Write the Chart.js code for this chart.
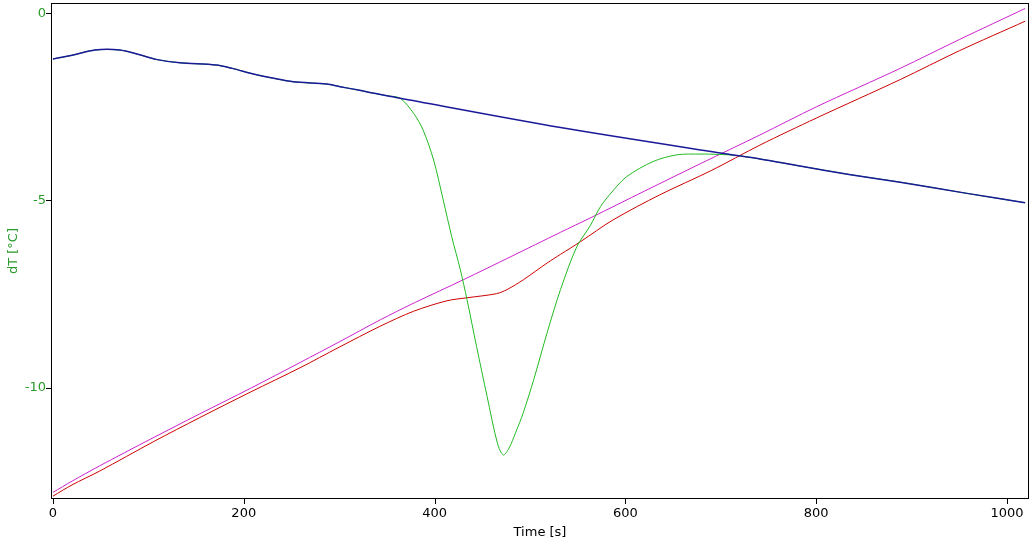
<!DOCTYPE html>
<html>
<head>
<meta charset="utf-8">
<title>dT vs Time</title>
<script src="https://cdn.jsdelivr.net/npm/chart.js@4"></script>
<style>
    html, body { margin: 0; padding: 0; background: #fff; }
    #wrap { width: 1032px; height: 544px; position: relative; }
</style>
</head>
<body>
<div id="wrap"><canvas id="dt-chart"></canvas></div>
<script>
// measured curve (green) and its baseline (blue)
var tMeasured = [0, 20, 44, 70, 90, 108, 133, 171, 188, 210, 230, 252, 287, 301, 320, 335, 350, 364,
    378, 388, 399, 409, 418, 427, 434, 444, 455, 466, 472, 478, 485, 493, 504, 518, 532, 549, 563,
    574, 584, 601, 629, 654, 678, 699, 717, 741, 783, 836, 888, 958, 1019];
var vMeasured = [-1.22, -1.12, -0.98, -0.98, -1.1, -1.23, -1.32, -1.38, -1.47, -1.62, -1.73, -1.83, -1.89, -1.96, -2.05, -2.13, -2.2, -2.27,
    -2.67, -3.12, -3.92, -4.98, -5.97, -6.85, -7.65, -8.9, -10.23, -11.5, -11.8, -11.62, -11.2, -10.67, -9.78, -8.53, -7.38, -6.24, -5.68,
    -5.16, -4.83, -4.37, -3.96, -3.78, -3.76, -3.77, -3.8, -3.89, -4.08, -4.31, -4.51, -4.81, -5.06];

var tBaseline = [0, 20, 44, 70, 90, 108, 133, 171, 188, 210, 230, 252, 287, 301, 320, 335, 350, 364,
    532, 717, 741, 783, 836, 888, 958, 1019];
var vBaseline = [-1.22, -1.12, -0.98, -0.98, -1.1, -1.23, -1.32, -1.38, -1.47, -1.62, -1.73, -1.83, -1.89, -1.96, -2.05, -2.13, -2.2, -2.27,
    -3.05, -3.8, -3.89, -4.08, -4.31, -4.51, -4.81, -5.06];

// reference (magenta) and sample (red) temperature
var tReference = [0, 20, 49, 102, 154, 207, 259, 300, 343, 380, 430, 480, 532, 563, 620, 680, 741, 800, 888, 950, 1019];
var vReference = [-12.8, -12.5, -12.09, -11.38, -10.7, -10.02, -9.33, -8.78, -8.19, -7.72, -7.12, -6.5, -5.85, -5.47, -4.75, -4.0, -3.25, -2.5, -1.47, -0.7, 0.13];

var tSample = [0, 20, 49, 105, 154, 207, 259, 300, 343, 378, 413, 434, 465, 476, 493, 518, 532, 553, 587, 636, 690, 741, 800, 888, 950, 1019];
var vSample = [-12.9, -12.6, -12.23, -11.45, -10.8, -10.12, -9.47, -8.92, -8.36, -7.96, -7.68, -7.6, -7.49, -7.38, -7.12, -6.67, -6.44, -6.1, -5.52, -4.85, -4.2, -3.52, -2.8, -1.77, -1.0, -0.21];

var xTicks = [0, 200, 400, 600, 800, 1000];
var yTicks = [0, -5, -10];

(function() {
    'use strict';

    function points(ts, vs) {
        var out = [];
        for (var i = 0; i < ts.length; i++) {
            out.push({ x: ts[i], y: vs[i] });
        }
        return out;
    }

    function line(data, color, width, order) {
        return {
            data: data,
            borderColor: color,
            borderWidth: width,
            pointRadius: 0,
            fill: false,
            tension: 0.3,
            order: order
        };
    }

    // box round the plot plus the small outside tick marks
    var framePlugin = {
        id: 'frame',
        afterDraw: function(chart) {
            var a = chart.chartArea;
            var ctx = chart.ctx;
            var L = Math.round(a.left) - 1, T = Math.round(a.top) - 1;
            var R = Math.round(a.right), B = Math.round(a.bottom);
            ctx.save();
            ctx.fillStyle = '#000';
            ctx.fillRect(L, T, R - L + 1, 1);
            ctx.fillRect(L, B, R - L + 1, 1);
            ctx.fillRect(L, T, 1, B - T + 1);
            ctx.fillRect(R, T, 1, B - T + 1);
            xTicks.forEach(function(v) {
                var px = Math.round(chart.scales.x.getPixelForValue(v));
                ctx.fillRect(px, B + 1, 1, 5);
            });
            yTicks.forEach(function(v) {
                var py = Math.round(chart.scales.y.getPixelForValue(v));
                ctx.fillRect(L - 5, py, 5, 1);
            });
            ctx.restore();
        }
    };

    var green = '#2a9a2a';
    var font = { family: 'DejaVu Sans', size: 13 };

    new Chart(document.getElementById('dt-chart'), {
        type: 'line',
        data: {
            datasets: [
                line(points(tBaseline, vBaseline), '#1a1a99', 1.5, 1),
                line(points(tMeasured, vMeasured), '#22bb22', 1, 2),
                line(points(tReference, vReference), '#cc22cc', 1, 3),
                line(points(tSample, vSample), '#cc0000', 1, 4)
            ]
        },
        options: {
            responsive: true,
            maintainAspectRatio: false,
            animation: false,
            layout: { padding: { top: 4, right: 4, left: 0, bottom: 0 } },
            plugins: {
                legend: { display: false },
                tooltip: { enabled: false }
            },
            scales: {
                x: {
                    type: 'linear',
                    min: -1,
                    max: 1022,
                    afterBuildTicks: function(scale) {
                        scale.ticks = xTicks.map(function(v) { return { value: v }; });
                    },
                    afterFit: function(scale) {
                        scale.height = 46;
                        scale.paddingLeft = 0;
                        scale.paddingRight = 0;
                    },
                    border: { display: false },
                    grid: { display: false, drawTicks: false },
                    ticks: {
                        color: '#000',
                        font: font,
                        padding: 8,
                        maxRotation: 0,
                        callback: function(v) { return String(v); }
                    },
                    title: { display: true, text: 'Time [s]', color: '#000', font: font, padding: { top: 2, bottom: 4 } }
                },
                y: {
                    type: 'linear',
                    min: -12.95,
                    max: 0.25,
                    afterBuildTicks: function(scale) {
                        scale.ticks = yTicks.map(function(v) { return { value: v }; });
                    },
                    afterFit: function(scale) {
                        scale.width = 52;
                        scale.paddingTop = 0;
                        scale.paddingBottom = 0;
                    },
                    border: { display: false },
                    grid: { display: false, drawTicks: false },
                    ticks: {
                        color: green,
                        font: font,
                        padding: 6,
                        callback: function(v) { return String(v); }
                    },
                    title: { display: true, text: 'dT [°C]', color: green, font: font, padding: { top: 6, bottom: 4 } }
                }
            }
        },
        plugins: [framePlugin]
    });
})();
</script>
</body>
</html>
